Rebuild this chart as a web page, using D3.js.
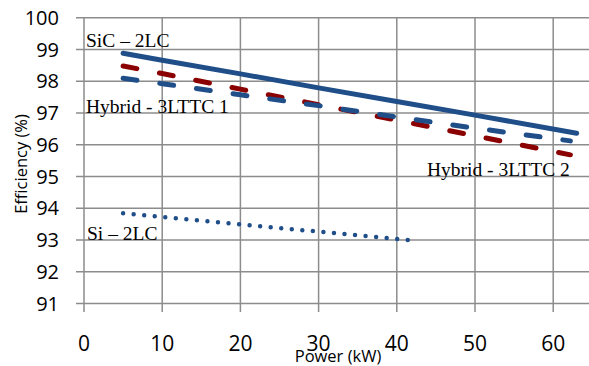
<!DOCTYPE html>
<html>
<head>
<meta charset="utf-8">
<script src="https://cdn.jsdelivr.net/npm/d3@7"></script>
<style>
    body { margin: 0; background: #fff; }
    .grid line { stroke: #8c8c8c; stroke-width: 1.5; }
    .tickLabel { font-family: "Open Sans", sans-serif; fill: #000; }
    .seriesLabel { font-family: "Liberation Serif", serif; font-size: 19.5px; fill: #000; }
</style>
</head>
<body>
<script>
//tick values
var xTicks = [0, 10, 20, 30, 40, 50, 60];
var yTicks = [91, 92, 93, 94, 95, 96, 97, 98, 99, 100];

//series: power (kW) and efficiency (%)
var sicPower = [5, 10, 20, 30, 40, 50, 63];
var sicEff = [98.88, 98.66, 98.23, 97.79, 97.36, 96.93, 96.36];

var hyb1Power = [5, 10, 20, 30, 40, 50, 62.2];
var hyb1Eff = [98.09, 97.92, 97.57, 97.23, 96.87, 96.52, 96.12];

var hyb2Power = [5, 10, 20, 30, 40, 50, 62.2];
var hyb2Eff = [98.48, 98.24, 97.75, 97.26, 96.77, 96.28, 95.68];

var siPower = [5, 10, 20, 30, 41.4];
var siEff = [93.84, 93.72, 93.49, 93.26, 93.0];

var seriesLabels = ["SiC \u2013 2LC", "Hybrid - 3LTTC 1", "Hybrid - 3LTTC 2", "Si \u2013 2LC"];

window.onload = setChart();

function zip(xs, ys){
    return xs.map(function(x, i){ return [x, ys[i]]; });
};

function setChart(){
    var width = 589,
        height = 366,
        left = 84,
        top = 17.7,
        bottom = 303.4;

    var svg = d3.select("body")
        .append("svg")
        .attr("width", width)
        .attr("height", height);

    var x = d3.scaleLinear()
        .domain([0, 60])
        .range([left, left + 60 * 7.82]);

    var y = d3.scaleLinear()
        .domain([91, 100])
        .range([bottom, top]);

    //horizontal grid lines, extending left as ticks
    var grid = svg.append("g").attr("class", "grid");
    grid.selectAll(".hline")
        .data(yTicks)
        .enter()
        .append("line")
        .attr("x1", left - 8)
        .attr("x2", width)
        .attr("y1", function(d){ return y(d); })
        .attr("y2", function(d){ return y(d); });

    //vertical grid lines, extending below as ticks
    grid.selectAll(".vline")
        .data(xTicks)
        .enter()
        .append("line")
        .attr("x1", function(d){ return x(d); })
        .attr("x2", function(d){ return x(d); })
        .attr("y1", top)
        .attr("y2", bottom + 8.5);

    //tick labels
    svg.selectAll(".ylab")
        .data(yTicks)
        .enter()
        .append("text")
        .attr("class", "tickLabel")
        .attr("x", 59)
        .attr("y", function(d){ return y(d); })
        .attr("dy", "0.36em")
        .attr("text-anchor", "end")
        .style("font-size", "20px")
        .text(function(d){ return d; });

    svg.selectAll(".xlab")
        .data(xTicks)
        .enter()
        .append("text")
        .attr("class", "tickLabel")
        .attr("x", function(d){ return x(d); })
        .attr("y", 350.5)
        .attr("text-anchor", "middle")
        .style("font-size", "21px")
        .text(function(d){ return d; });

    //axis titles
    svg.append("text")
        .attr("class", "tickLabel")
        .attr("x", 338)
        .attr("y", 362)
        .attr("text-anchor", "middle")
        .style("font-size", "16.5px")
        .text("Power (kW)");

    svg.append("text")
        .attr("class", "tickLabel")
        .attr("transform", "translate(27,164) rotate(-90)")
        .attr("text-anchor", "middle")
        .style("font-size", "16.5px")
        .text("Efficiency (%)");

    var line = d3.line()
        .x(function(d){ return x(d[0]); })
        .y(function(d){ return y(d[1]); });

    var blue = "#1f4e89",
        red = "#8b0000";

    //SiC - 2LC solid
    svg.append("path")
        .attr("d", line(zip(sicPower, sicEff)))
        .attr("fill", "none")
        .attr("stroke", blue)
        .attr("stroke-width", 5)
        .attr("stroke-linecap", "round");

    //Hybrid 3LTTC 2 red dashed
    svg.append("path")
        .attr("d", line(zip(hyb2Power, hyb2Eff)))
        .attr("fill", "none")
        .attr("stroke", red)
        .attr("stroke-width", 5)
        .attr("stroke-linecap", "round")
        .attr("stroke-dasharray", "14,23");

    //Hybrid 3LTTC 1 blue dashed
    svg.append("path")
        .attr("d", line(zip(hyb1Power, hyb1Eff)))
        .attr("fill", "none")
        .attr("stroke", blue)
        .attr("stroke-width", 5)
        .attr("stroke-linecap", "round")
        .attr("stroke-dasharray", "14,23");

    //Si - 2LC dotted, gap fitted so the last dot sits on the end point
    var dotted = svg.append("path")
        .attr("d", line(zip(siPower, siEff)))
        .attr("fill", "none")
        .attr("stroke", blue)
        .attr("stroke-width", 4.5)
        .attr("stroke-linecap", "round");
    var len = dotted.node().getTotalLength();
    dotted.attr("stroke-dasharray", "0," + (len / Math.round(len / 10.5)));

    //series labels
    var labelPos = [[86, 47], [86, 112.5], [427, 176], [87, 240]];
    svg.selectAll(".seriesLabel")
        .data(seriesLabels)
        .enter()
        .append("text")
        .attr("class", "seriesLabel")
        .attr("x", function(d, i){ return labelPos[i][0]; })
        .attr("y", function(d, i){ return labelPos[i][1]; })
        .text(function(d){ return d; });
};
</script>
</body>
</html>
